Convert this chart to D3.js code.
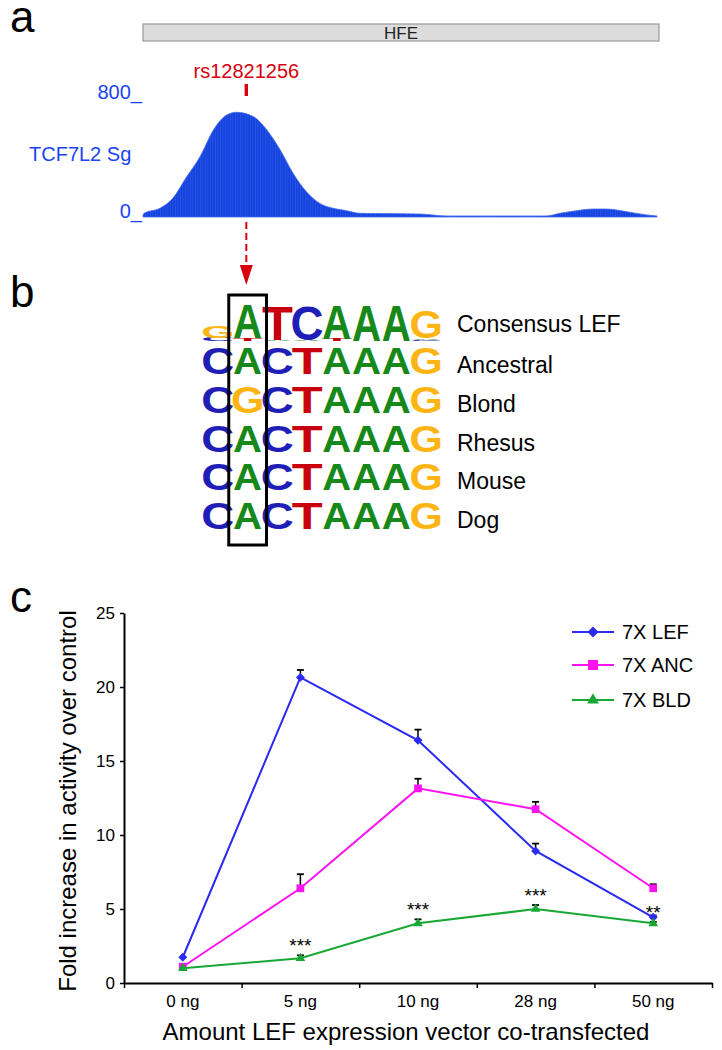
<!DOCTYPE html>
<html>
<head>
<meta charset="utf-8">
<script src="https://cdn.jsdelivr.net/npm/d3@7"></script>
<style>
  body { margin: 0; background: #fff; }
  svg { display: block; font-family: "Liberation Sans", Arial, Helvetica, sans-serif; }
</style>
</head>
<body>
<svg id="fig"></svg>
<script>
// ---- panel a: TCF7L2 signal track across HFE (position in % of window, signal)
const trackPos = [0, 0.2, 3.3, 5.8, 8.5, 11.1, 13.7, 16.3, 18.2, 21.5, 24.1, 26.7, 29.2, 31.8, 34.4, 37.0, 39.6, 42.2, 53.9, 59.1, 78.5, 81.1, 84.4, 87.6, 90.2, 94.1, 98.0, 100];
const trackVal = [10, 25, 59, 127, 273, 409, 590, 692, 710, 680, 590, 454, 296, 171, 92, 59, 43, 25, 20, 7, 7, 25, 43, 54, 54, 36, 14, 7];
const snpPos = 20.1;
const geneName = 'HFE';
const snpName = 'rs12821256';

// ---- panel b: sequence logo + aligned sequences
const consensus = [
  [['C', 0.18], ['G', 0.6]],
  [['T', 0.16], ['A', 1.84]],
  [['A', 0.07], ['T', 1.8]],
  [['A', 0.07], ['C', 1.82]],
  [['T', 0.12], ['A', 1.84]],
  [['A', 1.88]],
  [['A', 1.88]],
  [['C', 0.06], ['A', 0.08], ['G', 1.48]]
];
const species = ['Ancestral', 'Blond', 'Rhesus', 'Mouse', 'Dog'];
const sequences = ['CACTAAAG', 'CGCTAAAG', 'CACTAAAG', 'CACTAAAG', 'CACTAAAG'];
const baseColor = { A: '#17891a', C: '#1f1fb8', G: '#fdb516', T: '#c8000e' };

// ---- panel c: reporter assay
const doses = ['0 ng', '5 ng', '10 ng', '28 ng', '50 ng'];
const lef = [1.74, 20.65, 16.4, 8.92, 4.44];
const lefErr = [0, 0.5, 0.72, 0.5, 0.12];
const anc = [1.1, 6.4, 13.15, 11.74, 6.4];
const ancErr = [0, 0.95, 0.65, 0.5, 0.27];
const bld = [1.0, 1.67, 4.03, 5.0, 4.03];
const bldErr = [0, 0.2, 0.27, 0.27, 0.1];
const stars = ['', '***', '***', '***', '**'];
const yTicks = [0, 5, 10, 15, 20, 25];

const W = 722, H = 1050;
const svg = d3.select('#fig').attr('width', W).attr('height', H);

const panelLabel = (txt, x, y) => svg.append('text')
  .attr('x', x).attr('y', y).attr('font-size', 44).text(txt);

// ================= panel a =================
panelLabel('a', 10, 32);

const tx = d3.scaleLinear().domain([0, 100]).range([143, 657]);
const ty = d3.scaleLinear().domain([0, 800]).range([217, 99]);

svg.append('rect')
  .attr('x', 143).attr('y', 24).attr('width', 516).attr('height', 17)
  .attr('fill', '#dcdcdc').attr('stroke', '#999').attr('stroke-width', 1.2);
svg.append('text')
  .attr('x', 401).attr('y', 38.5).attr('text-anchor', 'middle')
  .attr('font-size', 17).attr('fill', '#222').text(geneName);

// striped fill, like the wiggle bars of a genome browser
const pat = svg.append('defs').append('pattern')
  .attr('id', 'bars').attr('width', 2.5).attr('height', 10)
  .attr('patternUnits', 'userSpaceOnUse');
pat.append('rect').attr('width', 2.5).attr('height', 10).attr('fill', '#1442dc');
pat.append('rect').attr('width', 0.8).attr('height', 10).attr('fill', '#2a55ea');

const trackData = trackPos.map((p, i) => ({ p, v: trackVal[i] }));
const area = d3.area()
  .x(d => tx(d.p)).y0(ty(0)).y1(d => ty(d.v))
  .curve(d3.curveMonotoneX);
svg.append('path').datum(trackData)
  .attr('d', area).attr('fill', 'url(#bars)')
  .attr('stroke', '#3f6af0').attr('stroke-width', 0.8);

const blue = '#1a44f2';
svg.append('text').attr('x', 142).attr('y', 99).attr('text-anchor', 'end')
  .attr('font-size', 20).attr('fill', blue).text('800_');
svg.append('text').attr('x', 142).attr('y', 218).attr('text-anchor', 'end')
  .attr('font-size', 20).attr('fill', blue).text('0_');
svg.append('text').attr('x', 29).attr('y', 161)
  .attr('font-size', 20).attr('fill', blue).text('TCF7L2 Sg');

const red = '#d8000f';
const sx = tx(snpPos);
svg.append('text').attr('x', sx).attr('y', 78).attr('text-anchor', 'middle')
  .attr('font-size', 20).attr('fill', red).text(snpName);
svg.append('rect').attr('x', sx - 1.7).attr('y', 84).attr('width', 3.4).attr('height', 12)
  .attr('fill', red);
svg.append('line')
  .attr('x1', sx).attr('x2', sx).attr('y1', 222).attr('y2', 265)
  .attr('stroke', red).attr('stroke-width', 2).attr('stroke-dasharray', '7,4');
svg.append('path')
  .attr('d', `M${sx - 6.5},265 L${sx + 6.5},265 L${sx},285 Z`)
  .attr('fill', red);

// ================= panel b =================
panelLabel('b', 10, 307);

const colX = d3.scaleBand().domain(d3.range(8)).range([203, 441]);
const bits = d3.scaleLinear().domain([0, 2]).range([341, 303]);
const rowY = d3.scaleLinear().domain([0, species.length - 1]).range([374, 529]);
const CAP = 0.716;
// share of the advance width that the glyph ink covers (bold sans)
const ink = { A: 0.99, C: 0.87, G: 0.86, T: 0.93 };

function letter(ch, x, w, yBottom, h) {
  const fs = 100;
  const t = svg.append('text')
    .attr('font-size', fs).attr('font-weight', 'bold')
    .attr('fill', baseColor[ch]).text(ch);
  const adv = t.node().getComputedTextLength();
  const kx = w / (adv * ink[ch]);
  const shift = adv * (1 - ink[ch]) / 2 * kx;
  t.attr('transform', `translate(${x - shift},${yBottom}) scale(${kx},${h / (fs * CAP)})`);
}

consensus.forEach((stack, i) => {
  let y0 = 0;
  stack.forEach(([ch, b]) => {
    letter(ch, colX(i) + 0.5, colX.bandwidth() - 1, bits(y0), bits(0) - bits(b));
    y0 += b;
  });
});
svg.append('text').attr('x', 457).attr('y', 332).attr('font-size', 23).text('Consensus LEF');

sequences.forEach((seq, r) => {
  seq.split('').forEach((ch, i) => {
    letter(ch, colX(i) + 0.5, colX.bandwidth() - 1, rowY(r), 26);
  });
  svg.append('text').attr('x', 457).attr('y', rowY(r) - 1)
    .attr('font-size', 23).text(species[r]);
});

svg.append('rect')
  .attr('x', colX(1) - 4).attr('y', 295)
  .attr('width', colX.bandwidth() + 8).attr('height', 250)
  .attr('fill', 'none').attr('stroke', '#000').attr('stroke-width', 3);

// ================= panel c =================
panelLabel('c', 10, 612);

const plotL = 124, plotR = 712, plotT = 613, plotB = 983;
const x = d3.scaleBand().domain(doses).range([plotL, plotR]);
const xEdge = d3.scaleLinear().domain([0, doses.length]).range([plotL, plotR]);
const y = d3.scaleLinear().domain([0, 25]).range([plotB, plotT]);

const yAxis = svg.append('g')
  .attr('transform', `translate(${plotL},0)`)
  .call(d3.axisLeft(y).tickValues(yTicks).tickSize(4).tickSizeOuter(0).tickPadding(5));
yAxis.select('.domain').attr('stroke-width', 2);
yAxis.selectAll('.tick line').attr('stroke-width', 1.5);
yAxis.selectAll('text').attr('font-size', 17).attr('font-family', null);

const xTicks = svg.append('g')
  .attr('transform', `translate(0,${plotB})`)
  .call(d3.axisBottom(xEdge).ticks(5).tickSize(5).tickSizeOuter(0).tickFormat(''));
xTicks.select('.domain').attr('stroke-width', 2);
xTicks.selectAll('.tick line').attr('stroke-width', 1.5);

const xLabels = svg.append('g')
  .attr('transform', `translate(0,${plotB})`)
  .call(d3.axisBottom(x).tickSize(0).tickPadding(12));
xLabels.select('.domain').remove();
xLabels.selectAll('text').attr('font-size', 17).attr('font-family', null);

svg.append('text')
  .attr('x', (plotL + plotR) / 2 - 12).attr('y', 1040).attr('text-anchor', 'middle')
  .attr('font-size', 24).text('Amount LEF expression vector co-transfected');
svg.append('text')
  .attr('transform', `translate(76,${(plotT + plotB) / 2 + 3}) rotate(-90)`)
  .attr('text-anchor', 'middle').attr('font-size', 24)
  .text('Fold increase in activity over control');

const series = [
  { name: '7X LEF', vals: lef, err: lefErr, color: '#2a2af2', sym: d3.symbolSquare, size: 40, rot: 45, lsize: 60 },
  { name: '7X ANC', vals: anc, err: ancErr, color: '#fb14f0', sym: d3.symbolSquare, size: 60, rot: 0, lsize: 100 },
  { name: '7X BLD', vals: bld, err: bldErr, color: '#17a835', sym: d3.symbolTriangle, size: 40, rot: 0, lsize: 60 }
];
const cx = d => x(d) + x.bandwidth() / 2;

// error bars first (upper only)
series.forEach(s => {
  s.vals.forEach((v, i) => {
    if (!s.err[i]) return;
    const px = cx(doses[i]);
    svg.append('line').attr('x1', px).attr('x2', px)
      .attr('y1', y(v)).attr('y2', y(v + s.err[i]))
      .attr('stroke', '#000').attr('stroke-width', 1.5);
    svg.append('line').attr('x1', px - 3.5).attr('x2', px + 3.5)
      .attr('y1', y(v + s.err[i])).attr('y2', y(v + s.err[i]))
      .attr('stroke', '#000').attr('stroke-width', 1.8);
  });
});

const line = d3.line().x((d, i) => cx(doses[i])).y(d => y(d));
series.forEach(s => {
  svg.append('path').datum(s.vals)
    .attr('d', line).attr('fill', 'none')
    .attr('stroke', s.color).attr('stroke-width', 2);
  s.vals.forEach((v, i) => {
    svg.append('path')
      .attr('d', d3.symbol().type(s.sym).size(s.size)())
      .attr('transform', `translate(${cx(doses[i])},${y(v)}) rotate(${s.rot})`)
      .attr('fill', s.color);
  });
});

// significance marks above the BLD points
stars.forEach((st, i) => {
  if (!st) return;
  svg.append('text')
    .attr('x', cx(doses[i])).attr('y', y(bld[i] + bldErr[i]) - 3)
    .attr('text-anchor', 'middle').attr('font-size', 19).text(st);
});

// legend
const legY = [632, 665, 700];
series.forEach((s, k) => {
  const g = svg.append('g').attr('transform', `translate(0,${legY[k]})`);
  g.append('line').attr('x1', 572).attr('x2', 614).attr('stroke', s.color).attr('stroke-width', 2);
  g.append('path')
    .attr('d', d3.symbol().type(s.sym).size(s.lsize)())
    .attr('transform', `translate(593,0) rotate(${s.rot})`)
    .attr('fill', s.color);
  g.append('text').attr('x', 622).attr('y', 7).attr('font-size', 20).text(s.name);
});
</script>
</body>
</html>
